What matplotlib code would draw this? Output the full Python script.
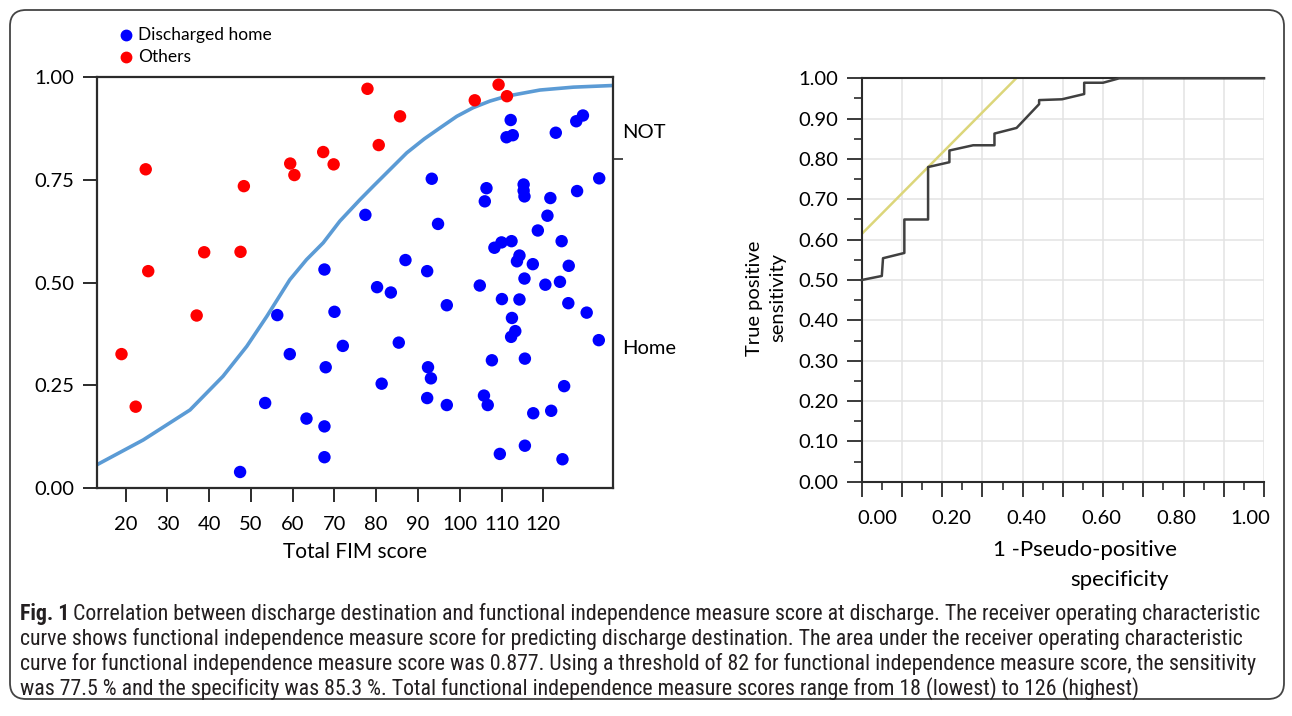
import numpy as np
import matplotlib
matplotlib.use("Agg")
import matplotlib.pyplot as plt
from matplotlib import font_manager
from matplotlib.patches import FancyBboxPatch
from matplotlib.ticker import MultipleLocator, NullFormatter, FormatStrFormatter
from matplotlib.transforms import blended_transform_factory

plt.rcParams['font.family'] = ['Lato', 'DejaVu Sans']

# left panel: discharged home (blue) and others (red), FIM score vs probability
home_x = [67.6, 112.2, 111.2, 112.7, 123.0, 127.9, 129.5, 93.3, 77.4, 94.8,
          106.4, 106.0, 115.3, 115.3, 115.5, 121.7, 128.1, 133.4, 121.0, 118.7,
          124.4, 108.3, 110.0, 112.4, 114.3, 113.7, 117.5, 126.1, 87.0, 92.2,
          115.5, 120.5, 124.0, 104.8, 80.2, 83.5, 96.9, 110.1, 114.3, 126.0,
          130.4, 112.5, 113.3, 112.3, 133.3, 72.0, 85.4, 107.7, 115.6, 92.4,
          93.1, 81.3, 125.0, 92.2, 96.9, 105.8, 106.7, 117.6, 121.9, 115.6,
          109.6, 124.6, 56.3, 70.0, 59.3, 67.9, 53.4, 63.3, 67.6, 67.6, 47.4]
home_y = [0.532, 0.896, 0.854, 0.859, 0.865, 0.893, 0.907, 0.753, 0.665, 0.643,
          0.730, 0.698, 0.739, 0.724, 0.710, 0.706, 0.723, 0.754, 0.663, 0.627,
          0.601, 0.585, 0.598, 0.601, 0.566, 0.552, 0.545, 0.541, 0.555, 0.528,
          0.510, 0.495, 0.502, 0.493, 0.489, 0.476, 0.445, 0.460, 0.459, 0.450,
          0.427, 0.414, 0.382, 0.368, 0.360, 0.346, 0.354, 0.311, 0.315, 0.294,
          0.267, 0.254, 0.248, 0.219, 0.202, 0.225, 0.202, 0.182, 0.188, 0.103,
          0.083, 0.070, 0.421, 0.429, 0.326, 0.294, 0.207, 0.169, 0.150, 0.075, 0.039]
other_x = [24.8, 25.4, 38.8, 47.5, 48.3, 59.4, 60.4, 67.3, 69.8, 77.9,
           85.7, 80.6, 103.6, 109.3, 111.3, 37.0, 19.0, 22.4]
other_y = [0.776, 0.528, 0.574, 0.575, 0.735, 0.790, 0.762, 0.818, 0.788, 0.972,
           0.905, 0.835, 0.944, 0.982, 0.954, 0.420, 0.326, 0.198]

# fitted curve
curve_x = [13.0, 24.2, 35.4, 43.3, 49.0, 53.8, 59.3, 63.3, 67.3, 71.3, 76.1,
           79.3, 87.3, 91.5, 95.3, 99.3, 103.2, 107.2, 111.2, 119.2, 127.2, 136.6]
curve_y = [0.056, 0.117, 0.190, 0.272, 0.345, 0.418, 0.507, 0.556, 0.597, 0.650,
           0.702, 0.735, 0.816, 0.850, 0.877, 0.905, 0.926, 0.942, 0.954, 0.969, 0.976, 0.980]

left_xticks = [20, 30, 40, 50, 60, 70, 80, 90, 100, 110, 120]
left_yticks = [0.0, 0.25, 0.50, 0.75, 1.00]

# right panel: ROC curve
roc_x = [0.0, 0.050, 0.053, 0.106, 0.106, 0.165, 0.165, 0.218, 0.218, 0.277,
         0.330, 0.330, 0.385, 0.441, 0.441, 0.498, 0.553, 0.553, 0.600, 0.640, 1.0]
roc_y = [0.500, 0.510, 0.554, 0.567, 0.650, 0.650, 0.780, 0.792, 0.821, 0.834,
         0.834, 0.863, 0.877, 0.936, 0.946, 0.948, 0.961, 0.989, 0.989, 1.0, 1.0]
tan_x = [0.0, 0.384]
tan_y = [0.614, 1.0]
roc_xlabels = ["0.00", "0.20", "0.40", "0.60", "0.80", "1.00"]

caption = [
    "Correlation between discharge destination and functional independence measure score at discharge. The receiver operating characteristic",
    "curve shows functional independence measure score for predicting discharge destination. The area under the receiver operating characteristic",
    "curve for functional independence measure score was 0.877. Using a threshold of 82 for functional independence measure score, the sensitivity",
    "was 77.5 % and the specificity was 85.3 %. Total functional independence measure scores range from 18 (lowest) to 126 (highest)",
]

W, H = 1292, 716
fig = plt.figure(figsize=(W / 100, H / 100), dpi=100)

def fx(px):
    return px / W

def fy(py):
    return 1 - py / H

dark = "#2b2b2b"
fs = 14.5

# outer frame
frame = FancyBboxPatch((10 / 100, (H - 699) / 100), 1274 / 100, 689 / 100,
                       boxstyle="round,pad=0,rounding_size=0.16",
                       transform=fig.dpi_scale_trans, fill=False,
                       edgecolor="#444444", linewidth=1.3)
fig.add_artist(frame)

# ---------------- left panel ----------------
ax1 = fig.add_axes([fx(96.7), fy(488), fx(613) - fx(96.7), fy(77.3) - fy(488)])
ax1.plot(curve_x, curve_y, color="#5b9bd5", lw=2.6, zorder=2)
ax1.scatter(home_x, home_y, s=80, color="#0000ff", edgecolors="none", zorder=3)
ax1.scatter(other_x, other_y, s=80, color="#ff0000", edgecolors="none", zorder=3)
ax1.set_xlim(13.06, 136.7)
ax1.set_ylim(0, 1)
ax1.set_xticks(left_xticks)
ax1.set_yticks(left_yticks)
ax1.set_yticklabels(["%.2f" % v for v in left_yticks])
ax1.tick_params(axis="both", direction="out", length=10, width=1.4, color=dark,
                labelsize=fs, labelcolor="black", pad=6)
ax1.tick_params(axis="x", pad=10)
for s in ax1.spines.values():
    s.set_linewidth(1.6)
    s.set_color(dark)
ax1.set_xlabel("Total FIM score", fontsize=15, labelpad=7)

# right side tick of left panel and group labels
ax1r = ax1.twinx()
ax1r.set_ylim(0, 1)
ax1r.set_yticks([0.8])
ax1r.set_yticklabels([""])
ax1r.tick_params(axis="y", direction="out", length=7, width=1.2, color=dark)
for s in ax1r.spines.values():
    s.set_visible(False)
fig.text(fx(622), fy(132), "NOT", fontsize=fs, va="center", ha="left")
fig.text(fx(622), fy(348), "Home", fontsize=fs, va="center", ha="left")

# legend
fig.add_artist(plt.Line2D([fx(126)], [fy(35)], marker="o", ms=7.5, color="#0000ff", ls="none"))
fig.add_artist(plt.Line2D([fx(126)], [fy(57)], marker="o", ms=7.5, color="#ff0000", ls="none"))
fig.text(fx(138), fy(35), "Discharged home", fontsize=12.5, va="center", ha="left")
fig.text(fx(138), fy(57), "Others", fontsize=12.5, va="center", ha="left")

# ---------------- right panel ----------------
ax2 = fig.add_axes([fx(861.7), fy(481.7), fx(1264) - fx(861.7), fy(78.3) - fy(481.7)])
ax2.set_xlim(0, 1)
ax2.set_ylim(0, 1)
ax2.xaxis.set_major_locator(MultipleLocator(0.1))
ax2.xaxis.set_minor_locator(MultipleLocator(0.05))
ax2.yaxis.set_major_locator(MultipleLocator(0.1))
ax2.yaxis.set_minor_locator(MultipleLocator(0.05))
ax2.xaxis.set_major_formatter(NullFormatter())
ax2.yaxis.set_major_formatter(FormatStrFormatter("%.2f"))
ax2.grid(True, which="major", color="#e3e3e3", lw=1.1)
ax2.set_axisbelow(True)
ax2.tick_params(which="major", direction="out", length=11, width=1.3, color=dark,
                labelsize=fs, pad=6)
ax2.tick_params(which="minor", direction="out", length=6, width=1.2, color=dark)
for name, s in ax2.spines.items():
    s.set_linewidth(1.5)
    s.set_color(dark)
ax2.spines["right"].set_visible(False)

ax2.plot(roc_x, roc_y, color="#404040", lw=1.8, zorder=3, clip_on=False)
ax2.plot(tan_x, tan_y, color="#dcd67a", lw=1.8, zorder=2)

# x tick labels sit slightly off the tick marks in the reference
lab_pos = np.linspace(0.038, 0.967, len(roc_xlabels))
lab_tr = blended_transform_factory(ax2.transAxes, fig.transFigure)
for p, t in zip(lab_pos, roc_xlabels):
    ax2.text(p, fy(519), t, transform=lab_tr, ha="center", va="center", fontsize=fs)

ax2.set_ylabel("True positive\nsensitivity", fontsize=fs, linespacing=1.4)
ax2.yaxis.set_label_coords((786 - 861.7) / (1264 - 861.7), (481.7 - 298) / (481.7 - 78.3))
fig.text(fx(1085), fy(550), "1 -Pseudo-positive", fontsize=16, ha="center", va="center")
fig.text(fx(1120), fy(580), "specificity", fontsize=16, ha="center", va="center")

# ---------------- caption ----------------
names = {f.name for f in font_manager.fontManager.ttflist}
cap_family = ["DejaVu Sans"]
for cand in ["Liberation Sans Narrow", "Roboto Condensed", "Open Sans Condensed",
             "Noto Sans Condensed", "DejaVu Sans Condensed", "Roboto", "Liberation Sans"]:
    if cand in names:
        cap_family = [cand, "DejaVu Sans"]
        break
cap_color = "#231f20"
renderer = fig.canvas.get_renderer()

# pick a size so that the first line spans about the same width as in the reference
probe_b = fig.text(0, 0, "Fig. 1", fontsize=10, fontweight="bold", family=cap_family)
probe_r = fig.text(0, 0, caption[0], fontsize=10, family=cap_family)
w10 = probe_b.get_window_extent(renderer).width + probe_r.get_window_extent(renderer).width + 4
probe_b.remove()
probe_r.remove()
cap_fs = min(10 * 1238 / w10, 17)

line_y = [614, 639, 664, 689]
t0 = fig.text(fx(20), fy(line_y[0]), "Fig. 1", fontsize=cap_fs, fontweight="bold",
              family=cap_family, color=cap_color, va="center", ha="left")
bb = t0.get_window_extent(renderer)
fig.text((bb.x1 + 4) / W, fy(line_y[0]), caption[0], fontsize=cap_fs, family=cap_family,
         color=cap_color, va="center", ha="left")
for yy, line in zip(line_y[1:], caption[1:]):
    fig.text(fx(20), fy(yy), line, fontsize=cap_fs, family=cap_family,
             color=cap_color, va="center", ha="left")

fig.savefig("out.png", dpi=100)
